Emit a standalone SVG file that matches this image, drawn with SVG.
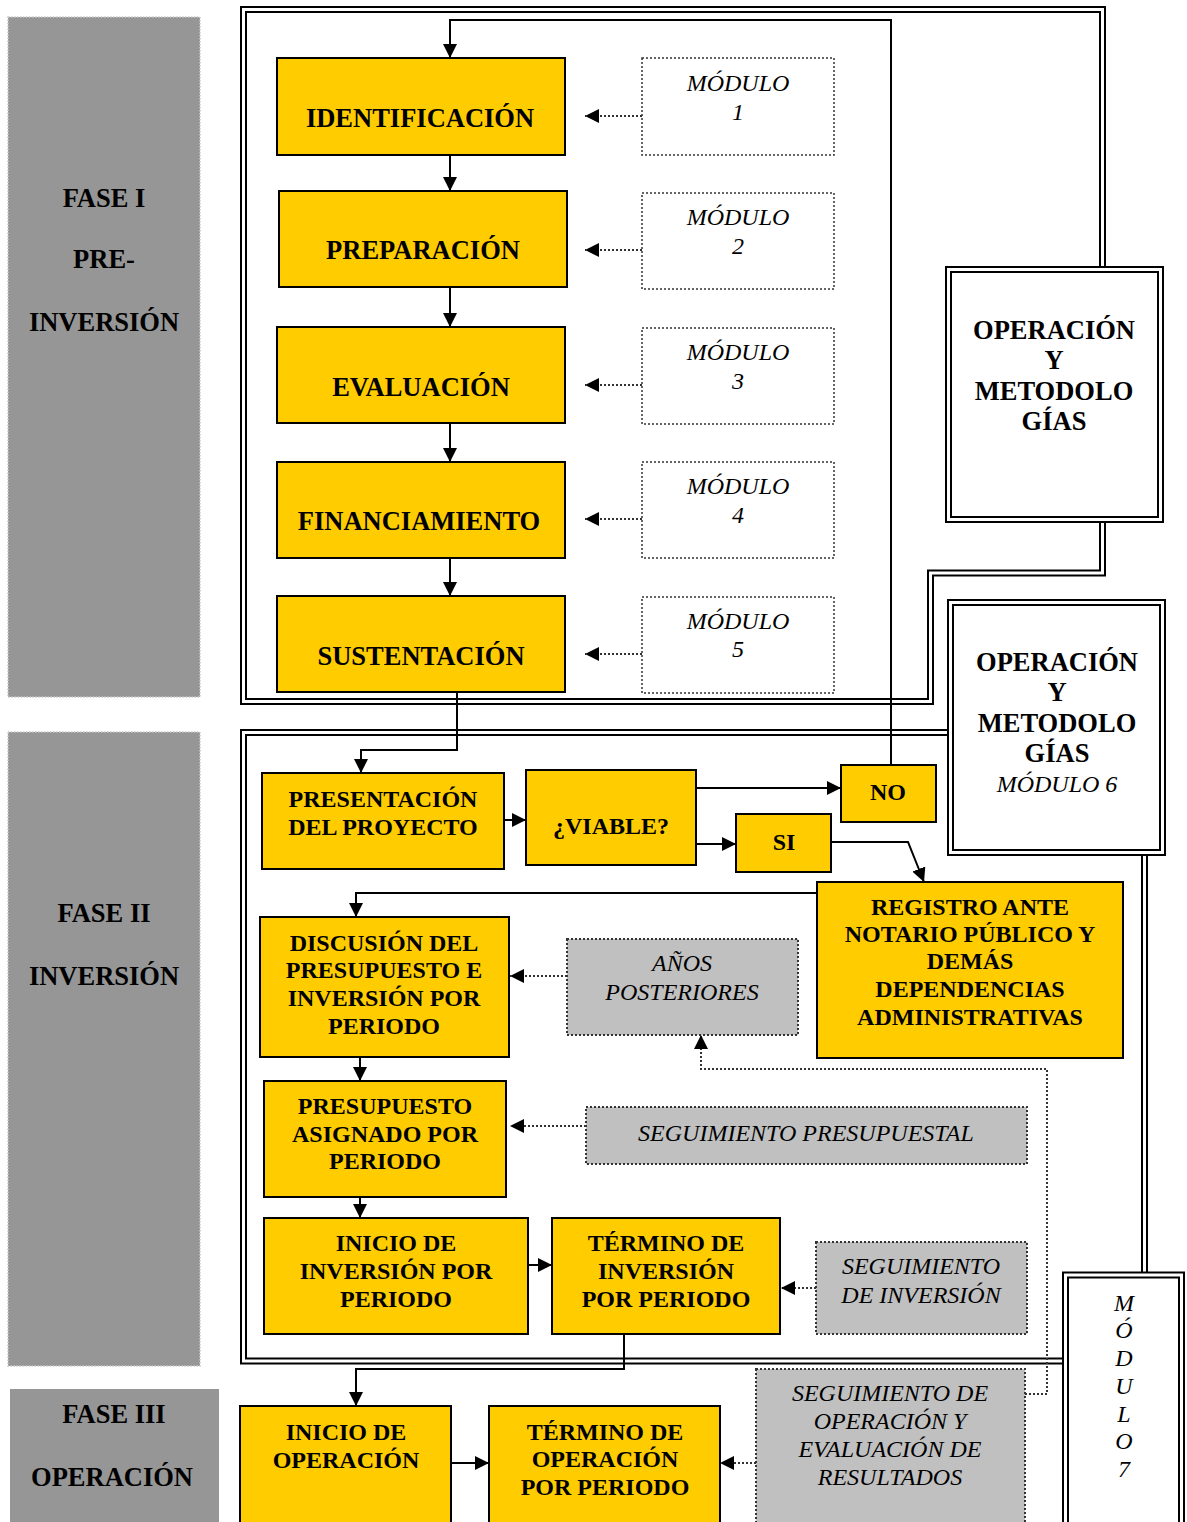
<svg xmlns="http://www.w3.org/2000/svg" width="1187" height="1522" viewBox="0 0 1187 1522">
<style>
.y{fill:#FFCC00;stroke:#000;stroke-width:2}
.g{fill:#C0C0C0;stroke:#333;stroke-width:2;stroke-dasharray:2 2}
.m{fill:#fff;stroke:#333;stroke-width:1.5;stroke-dasharray:2 2}
.bar{fill:#969696;stroke:#c8c8c8;stroke-width:1.5;stroke-dasharray:1.5 1.5}
.t{font-family:"Liberation Serif","Times New Roman",serif;font-size:24px;font-weight:bold;text-anchor:middle;fill:#000}
.tl{font-family:"Liberation Serif","Times New Roman",serif;font-size:26.5px;font-weight:bold;text-anchor:middle;fill:#000}
.it{font-family:"Liberation Serif","Times New Roman",serif;font-size:24px;font-style:italic;text-anchor:middle;fill:#000}
.c{stroke:#000;stroke-width:2;fill:none}
.d{stroke:#333;stroke-width:2;stroke-dasharray:2 2;fill:none}
.dbo{stroke:#000;stroke-width:7;fill:none}
.dbi{stroke:#fff;stroke-width:3;fill:none}
.box{fill:#fff;stroke:#000;stroke-width:7}
.boxi{fill:none;stroke:#fff;stroke-width:3}
</style>
<defs>
<marker id="a" markerUnits="userSpaceOnUse" markerWidth="15" markerHeight="14" refX="14" refY="7" orient="auto">
<path d="M0,0 L14,7 L0,14 z" fill="#000"/>
</marker>
</defs>
<rect width="1187" height="1522" fill="#fff"/>

<!-- phase bars -->
<g id="fase1"><rect class="bar" x="8" y="17" width="192" height="680"/>
<text class="tl" x="104" y="207">FASE I</text><text class="tl" x="104" y="268">PRE-</text><text class="tl" x="104" y="331">INVERSIÓN</text></g>
<g id="fase2"><rect class="bar" x="8" y="732" width="192" height="634"/>
<text class="tl" x="104" y="922">FASE II</text><text class="tl" x="104" y="985">INVERSIÓN</text></g>
<g id="fase3"><rect x="10" y="1389" width="209" height="133" fill="#969696"/>
<text class="tl" x="114" y="1423">FASE III</text><text class="tl" x="112" y="1486">OPERACIÓN</text></g>

<!-- double-line frames -->
<g id="frames">
<path class="dbo" d="M1102.5 270 V9.5 H243.5 V701.5 H930.5 V573 H1102.5 V519"/>
<path class="dbi" d="M1102.5 270 V9.5 H243.5 V701.5 H930.5 V573 H1102.5 V519"/>
<path class="dbo" d="M950 732.5 H243.5 V1361 H1066"/>
<path class="dbi" d="M950 732.5 H243.5 V1361 H1066"/>
<path class="dbo" d="M1144.5 852 V1275"/>
<path class="dbi" d="M1144.5 852 V1275"/>
</g>

<g id="op1"><rect class="box" x="948.5" y="269.5" width="212" height="250"/><rect class="boxi" x="948.5" y="269.5" width="212" height="250"/>
<text class="tl" x="1054" y="339">OPERACIÓN</text><text class="tl" x="1054" y="369">Y</text><text class="tl" x="1054" y="400">METODOLO</text><text class="tl" x="1054" y="430">GÍAS</text></g>
<g id="op2"><rect class="box" x="950.5" y="602.5" width="212" height="250"/><rect class="boxi" x="950.5" y="602.5" width="212" height="250"/>
<text class="tl" x="1057" y="671">OPERACIÓN</text><text class="tl" x="1057" y="701">Y</text><text class="tl" x="1057" y="732">METODOLO</text><text class="tl" x="1057" y="762">GÍAS</text><text class="it" x="1057" y="792">MÓDULO 6</text></g>
<g id="mod7"><rect class="box" x="1065.5" y="1275" width="116" height="260"/><rect class="boxi" x="1065.5" y="1275" width="116" height="260"/>
<text class="it" x="1124" y="1311">M</text><text class="it" x="1124" y="1338">Ó</text><text class="it" x="1124" y="1366">D</text><text class="it" x="1124" y="1394">U</text><text class="it" x="1124" y="1422">L</text><text class="it" x="1124" y="1449">O</text><text class="it" x="1124" y="1477">7</text></g>

<!-- phase I nodes -->
<g id="identificacion"><rect class="y" x="277" y="58" width="288" height="97"/><text class="tl" x="420" y="127">IDENTIFICACIÓN</text></g>
<g id="preparacion"><rect class="y" x="279" y="191" width="288" height="96"/><text class="tl" x="423" y="259">PREPARACIÓN</text></g>
<g id="evaluacion"><rect class="y" x="277" y="327" width="288" height="96"/><text class="tl" x="421" y="396">EVALUACIÓN</text></g>
<g id="financiamiento"><rect class="y" x="277" y="462" width="288" height="96"/><text class="tl" x="419" y="530">FINANCIAMIENTO</text></g>
<g id="sustentacion"><rect class="y" x="277" y="596" width="288" height="96"/><text class="tl" x="421" y="665">SUSTENTACIÓN</text></g>

<g id="modulo1"><rect class="m" x="642" y="58" width="192" height="97"/><text class="it" x="738" y="91">MÓDULO</text><text class="it" x="738" y="120">1</text></g>
<g id="modulo2"><rect class="m" x="642" y="193" width="192" height="96"/><text class="it" x="738" y="225">MÓDULO</text><text class="it" x="738" y="254">2</text></g>
<g id="modulo3"><rect class="m" x="642" y="328" width="192" height="96"/><text class="it" x="738" y="360">MÓDULO</text><text class="it" x="738" y="389">3</text></g>
<g id="modulo4"><rect class="m" x="642" y="462" width="192" height="96"/><text class="it" x="738" y="494">MÓDULO</text><text class="it" x="738" y="523">4</text></g>
<g id="modulo5"><rect class="m" x="642" y="597" width="192" height="96"/><text class="it" x="738" y="629">MÓDULO</text><text class="it" x="738" y="657">5</text></g>

<!-- phase II nodes -->
<g id="presentacion"><rect class="y" x="262" y="773" width="242" height="96"/><text class="t" x="383" y="807">PRESENTACIÓN</text><text class="t" x="383" y="835">DEL PROYECTO</text></g>
<g id="viable"><rect class="y" x="526" y="770" width="170" height="95"/><text class="t" x="611" y="834">¿VIABLE?</text></g>
<g id="no"><rect class="y" x="841" y="765" width="95" height="57"/><text class="t" x="888" y="800">NO</text></g>
<g id="si"><rect class="y" x="736" y="814" width="95" height="58"/><text class="t" x="784" y="850">SI</text></g>
<g id="registro"><rect class="y" x="817" y="882" width="306" height="176"/>
<text class="t" x="970" y="915">REGISTRO ANTE</text><text class="t" x="970" y="942">NOTARIO PÚBLICO Y</text><text class="t" x="970" y="969">DEMÁS</text><text class="t" x="970" y="997">DEPENDENCIAS</text><text class="t" x="970" y="1025">ADMINISTRATIVAS</text></g>
<g id="discusion"><rect class="y" x="260" y="917" width="249" height="140"/>
<text class="t" x="384" y="951">DISCUSIÓN DEL</text><text class="t" x="384" y="978">PRESUPUESTO E</text><text class="t" x="384" y="1006">INVERSIÓN POR</text><text class="t" x="384" y="1034">PERIODO</text></g>
<g id="anos"><rect class="g" x="567" y="939" width="231" height="96"/><text class="it" x="682" y="971">AÑOS</text><text class="it" x="682" y="1000">POSTERIORES</text></g>
<g id="presupuesto"><rect class="y" x="264" y="1081" width="242" height="116"/>
<text class="t" x="385" y="1114">PRESUPUESTO</text><text class="t" x="385" y="1142">ASIGNADO POR</text><text class="t" x="385" y="1169">PERIODO</text></g>
<g id="segpres"><rect class="g" x="586" y="1107" width="441" height="57"/><text class="it" x="806" y="1141">SEGUIMIENTO PRESUPUESTAL</text></g>
<g id="inicioinv"><rect class="y" x="264" y="1218" width="264" height="116"/>
<text class="t" x="396" y="1251">INICIO DE</text><text class="t" x="396" y="1279">INVERSIÓN POR</text><text class="t" x="396" y="1307">PERIODO</text></g>
<g id="terminoinv"><rect class="y" x="552" y="1218" width="228" height="116"/>
<text class="t" x="666" y="1251">TÉRMINO DE</text><text class="t" x="666" y="1279">INVERSIÓN</text><text class="t" x="666" y="1307">POR PERIODO</text></g>
<g id="seginv"><rect class="g" x="816" y="1242" width="211" height="92"/><text class="it" x="921" y="1274">SEGUIMIENTO</text><text class="it" x="921" y="1303">DE INVERSIÓN</text></g>

<!-- phase III nodes -->
<g id="inicioop"><rect class="y" x="240" y="1406" width="211" height="120"/><text class="t" x="346" y="1440">INICIO DE</text><text class="t" x="346" y="1468">OPERACIÓN</text></g>
<g id="terminoop"><rect class="y" x="489" y="1406" width="231" height="120"/><text class="t" x="605" y="1440">TÉRMINO DE</text><text class="t" x="605" y="1467">OPERACIÓN</text><text class="t" x="605" y="1495">POR PERIODO</text></g>
<g id="segop"><rect class="g" x="756" y="1369" width="269" height="160"/>
<text class="it" x="890" y="1401">SEGUIMIENTO DE</text><text class="it" x="890" y="1429">OPERACIÓN Y</text><text class="it" x="890" y="1457">EVALUACIÓN DE</text><text class="it" x="890" y="1485">RESULTADOS</text></g>

<!-- connectors -->
<g id="connectors">
<path class="c" d="M891 765 V20 H450 V58" marker-end="url(#a)"/>
<path class="c" d="M450 155 V191" marker-end="url(#a)"/>
<path class="c" d="M450 287 V327" marker-end="url(#a)"/>
<path class="c" d="M450 423 V462" marker-end="url(#a)"/>
<path class="c" d="M450 558 V596" marker-end="url(#a)"/>
<path class="d" d="M642 116 H585" marker-end="url(#a)"/>
<path class="d" d="M642 250 H585" marker-end="url(#a)"/>
<path class="d" d="M642 385 H585" marker-end="url(#a)"/>
<path class="d" d="M642 519 H585" marker-end="url(#a)"/>
<path class="d" d="M642 654 H585" marker-end="url(#a)"/>
<path class="c" d="M457 692 V750 H361 V773" marker-end="url(#a)"/>
<path class="c" d="M504 820 H526" marker-end="url(#a)"/>
<path class="c" d="M696 788 H841" marker-end="url(#a)"/>
<path class="c" d="M696 844 H736" marker-end="url(#a)"/>
<path class="c" d="M831 842 H908 L924 882" marker-end="url(#a)"/>
<path class="c" d="M817 893 H356 V917" marker-end="url(#a)"/>
<path class="d" d="M567 976 H510" marker-end="url(#a)"/>
<path class="d" d="M1025 1394 H1047 V1069 H701 V1035" marker-end="url(#a)"/>
<path class="c" d="M360 1057 V1081" marker-end="url(#a)"/>
<path class="d" d="M586 1126 H510" marker-end="url(#a)"/>
<path class="c" d="M360 1197 V1218" marker-end="url(#a)"/>
<path class="c" d="M528 1265 H552" marker-end="url(#a)"/>
<path class="d" d="M816 1288 H781" marker-end="url(#a)"/>
<path class="c" d="M624 1334 V1369 H356 V1406" marker-end="url(#a)"/>
<path class="c" d="M451 1463 H489" marker-end="url(#a)"/>
<path class="d" d="M756 1463 H720" marker-end="url(#a)"/>
</g>
</svg>
